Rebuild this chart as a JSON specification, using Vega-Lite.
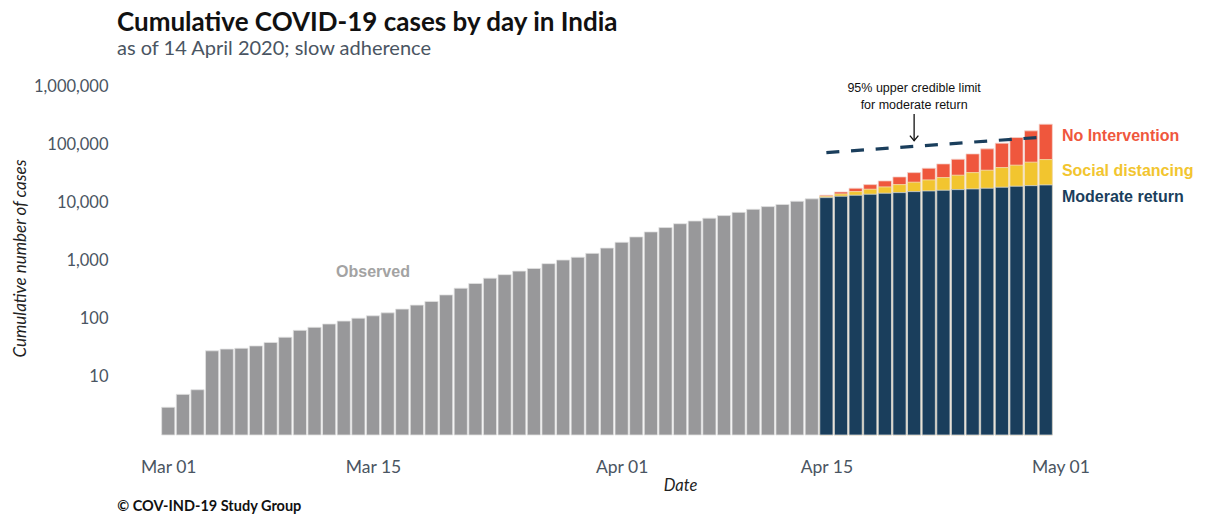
{
  "$schema": "https://vega.github.io/schema/vega-lite/v6.json",
  "width": 936,
  "height": 349,
  "autosize": {"type": "none"},
  "padding": {"left": 139, "top": 86, "right": 133, "bottom": 83},
  "background": "white",
  "config": {"view": {"stroke": null}, "font": "Lato"},
  "title": {
    "text": "Cumulative COVID-19 cases by day in India",
    "subtitle": "as of 14 April 2020; slow adherence",
    "anchor": "start",
    "frame": "group",
    "dx": -22,
    "offset": 19,
    "font": "Lato",
    "fontSize": 26,
    "fontWeight": "bold",
    "color": "#111111",
    "subtitleFont": "Lato",
    "subtitleFontSize": 20,
    "subtitleColor": "#4a5562",
    "subtitlePadding": 3
  },
  "datasets": {
    "cases": [
      {"date": "2020-03-01T00:00:00", "observed": 3},
      {"date": "2020-03-02T00:00:00", "observed": 5},
      {"date": "2020-03-03T00:00:00", "observed": 6},
      {"date": "2020-03-04T00:00:00", "observed": 28},
      {"date": "2020-03-05T00:00:00", "observed": 30},
      {"date": "2020-03-06T00:00:00", "observed": 31},
      {"date": "2020-03-07T00:00:00", "observed": 34},
      {"date": "2020-03-08T00:00:00", "observed": 39},
      {"date": "2020-03-09T00:00:00", "observed": 48},
      {"date": "2020-03-10T00:00:00", "observed": 63},
      {"date": "2020-03-11T00:00:00", "observed": 71},
      {"date": "2020-03-12T00:00:00", "observed": 81},
      {"date": "2020-03-13T00:00:00", "observed": 91},
      {"date": "2020-03-14T00:00:00", "observed": 102},
      {"date": "2020-03-15T00:00:00", "observed": 112},
      {"date": "2020-03-16T00:00:00", "observed": 126},
      {"date": "2020-03-17T00:00:00", "observed": 146},
      {"date": "2020-03-18T00:00:00", "observed": 171},
      {"date": "2020-03-19T00:00:00", "observed": 198},
      {"date": "2020-03-20T00:00:00", "observed": 256},
      {"date": "2020-03-21T00:00:00", "observed": 334},
      {"date": "2020-03-22T00:00:00", "observed": 403},
      {"date": "2020-03-23T00:00:00", "observed": 497},
      {"date": "2020-03-24T00:00:00", "observed": 571},
      {"date": "2020-03-25T00:00:00", "observed": 657},
      {"date": "2020-03-26T00:00:00", "observed": 730},
      {"date": "2020-03-27T00:00:00", "observed": 883},
      {"date": "2020-03-28T00:00:00", "observed": 1019},
      {"date": "2020-03-29T00:00:00", "observed": 1139},
      {"date": "2020-03-30T00:00:00", "observed": 1326},
      {"date": "2020-03-31T00:00:00", "observed": 1635},
      {"date": "2020-04-01T00:00:00", "observed": 2059},
      {"date": "2020-04-02T00:00:00", "observed": 2545},
      {"date": "2020-04-03T00:00:00", "observed": 3105},
      {"date": "2020-04-04T00:00:00", "observed": 3684},
      {"date": "2020-04-05T00:00:00", "observed": 4293},
      {"date": "2020-04-06T00:00:00", "observed": 4777},
      {"date": "2020-04-07T00:00:00", "observed": 5350},
      {"date": "2020-04-08T00:00:00", "observed": 5915},
      {"date": "2020-04-09T00:00:00", "observed": 6728},
      {"date": "2020-04-10T00:00:00", "observed": 7600},
      {"date": "2020-04-11T00:00:00", "observed": 8446},
      {"date": "2020-04-12T00:00:00", "observed": 9205},
      {"date": "2020-04-13T00:00:00", "observed": 10453},
      {"date": "2020-04-14T00:00:00", "observed": 11487},
      {"date": "2020-04-15T00:00:00", "no_intervention": 13250, "social_distancing": 12700, "moderate_return": 12050},
      {"date": "2020-04-16T00:00:00", "no_intervention": 15100, "social_distancing": 13950, "moderate_return": 12740},
      {"date": "2020-04-17T00:00:00", "no_intervention": 17490, "social_distancing": 15290, "moderate_return": 13250},
      {"date": "2020-04-18T00:00:00", "no_intervention": 20170, "social_distancing": 16800, "moderate_return": 13780},
      {"date": "2020-04-19T00:00:00", "no_intervention": 23350, "social_distancing": 18410, "moderate_return": 14350},
      {"date": "2020-04-20T00:00:00", "no_intervention": 27350, "social_distancing": 20170, "moderate_return": 14690},
      {"date": "2020-04-21T00:00:00", "no_intervention": 32430, "social_distancing": 22180, "moderate_return": 15290},
      {"date": "2020-04-22T00:00:00", "no_intervention": 38630, "social_distancing": 24300, "moderate_return": 15710},
      {"date": "2020-04-23T00:00:00", "no_intervention": 45810, "social_distancing": 26630, "moderate_return": 16150},
      {"date": "2020-04-24T00:00:00", "no_intervention": 55170, "social_distancing": 29260, "moderate_return": 16540},
      {"date": "2020-04-25T00:00:00", "no_intervention": 68070, "social_distancing": 32430, "moderate_return": 17010},
      {"date": "2020-04-26T00:00:00", "no_intervention": 83020, "social_distancing": 35650, "moderate_return": 17490},
      {"date": "2020-04-27T00:00:00", "no_intervention": 104000, "social_distancing": 39570, "moderate_return": 18200},
      {"date": "2020-04-28T00:00:00", "no_intervention": 129900, "social_distancing": 43520, "moderate_return": 18930},
      {"date": "2020-04-29T00:00:00", "no_intervention": 169400, "social_distancing": 49000, "moderate_return": 19370},
      {"date": "2020-04-30T00:00:00", "no_intervention": 220900, "social_distancing": 54320, "moderate_return": 19920}
    ],
    "upper": [
      {"date": "2020-04-15T00:00:00", "upper_limit": 71650},
      {"date": "2020-04-30T00:00:00", "upper_limit": 133300}
    ],
    "series_labels": [
      {"date": "2020-05-01T00:00:00", "value": 139000, "label": "No Intervention"},
      {"date": "2020-05-01T00:00:00", "value": 34700, "label": "Social distancing"},
      {"date": "2020-05-01T00:00:00", "value": 12240, "label": "Moderate return"}
    ],
    "notes": [
      {"date": "2020-04-21T00:00:00", "value": 931000, "label": "95% upper credible limit"},
      {"date": "2020-04-21T00:00:00", "value": 474000, "label": "for moderate return"}
    ],
    "pointer": [
      {"date": "2020-04-21T00:00:00", "start_value": 330000, "end_value": 115000}
    ],
    "observed_label": [
      {"date": "2020-03-15T00:00:00", "value": 634, "label": "Observed"}
    ],
    "caption": [
      {"date": "2020-02-26T00:00:00", "value": 0.0572, "label": "© COV-IND-19 Study Group"}
    ]
  },
  "layer": [
    {
      "data": {"name": "cases"},
      "layer": [
        {
          "mark": {"type": "bar", "width": 13.2, "color": "#98989a", "stroke": "#e2e2e2", "strokeWidth": 0.8},
          "encoding": {
            "x": {
              "field": "date", "type": "temporal",
              "scale": {"domain": [{"year": 2020, "month": 2, "date": 28}, {"year": 2020, "month": 5, "date": 2}], "padding": 0, "nice": false},
              "axis": {
                "values": [
                  {"year": 2020, "month": 3, "date": 1},
                  {"year": 2020, "month": 3, "date": 15},
                  {"year": 2020, "month": 4, "date": 1},
                  {"year": 2020, "month": 4, "date": 15},
                  {"year": 2020, "month": 5, "date": 1}
                ],
                "format": "%b %d",
                "domain": false, "ticks": false, "tickSize": 0, "grid": false,
                "labelFont": "Lato", "labelFontSize": 17.5, "labelColor": "#4a5562",
                "labelPadding": 23,
                "title": "Date", "titleFont": "Lato", "titleFontSize": 16.5,
                "titleFontStyle": "italic", "titleFontWeight": "normal", "titleColor": "#222222",
                "titleX": 541, "titleY": 50, "titleBaseline": "middle", "titleAlign": "center"
              }
            },
            "y": {
              "field": "observed", "type": "quantitative",
              "scale": {"type": "log", "domain": [1, 1000000], "padding": 0, "nice": false},
              "axis": {
                "values": [10, 100, 1000, 10000, 100000, 1000000],
                "format": ",",
                "domain": false, "ticks": false, "tickSize": 0, "grid": false,
                "labelFont": "Lato", "labelFontSize": 16.5, "labelColor": "#4a5562",
                "labelPadding": 31,
                "title": "Cumulative number of cases", "titleFont": "Lato", "titleFontSize": 17,
                "titleFontStyle": "italic", "titleFontWeight": "normal", "titleColor": "#222222",
                "titleX": -119, "titleY": 172, "titleBaseline": "middle", "titleAlign": "center"
              }
            },
            "y2": {"datum": 1}
          }
        },
        {
          "mark": {"type": "bar", "width": 13.2, "color": "#ef573d", "stroke": "#f4d6cf", "strokeWidth": 0.8},
          "encoding": {
            "x": {"field": "date", "type": "temporal"},
            "y": {"field": "no_intervention", "type": "quantitative"},
            "y2": {"datum": 1}
          }
        },
        {
          "mark": {"type": "bar", "width": 13.2, "color": "#f2c52f", "stroke": "#f3e4b8", "strokeWidth": 0.8},
          "encoding": {
            "x": {"field": "date", "type": "temporal"},
            "y": {"field": "social_distancing", "type": "quantitative"},
            "y2": {"datum": 1}
          }
        },
        {
          "mark": {"type": "bar", "width": 13.2, "color": "#1a3e5c", "stroke": "#d6d9dc", "strokeWidth": 0.8},
          "encoding": {
            "x": {"field": "date", "type": "temporal"},
            "y": {"field": "moderate_return", "type": "quantitative"},
            "y2": {"datum": 1}
          }
        }
      ]
    },
    {
      "data": {"name": "upper"},
      "mark": {"type": "line", "color": "#1a3e5c", "strokeWidth": 3.2, "strokeDash": [13, 11.7], "strokeCap": "butt"},
      "encoding": {
        "x": {"field": "date", "type": "temporal"},
        "y": {"field": "upper_limit", "type": "quantitative"}
      }
    },
    {
      "data": {"name": "pointer"},
      "layer": [
        {
          "mark": {"type": "rule", "color": "#111111", "strokeWidth": 1.3},
          "encoding": {
            "x": {"field": "date", "type": "temporal"},
            "y": {"field": "start_value", "type": "quantitative"},
            "y2": {"field": "end_value"}
          }
        },
        {
          "mark": {"type": "point", "shape": "M-1,-1.2L0,0L1,-1.2", "filled": false, "stroke": "#111111", "strokeWidth": 1.3, "size": 72, "opacity": 1},
          "encoding": {
            "x": {"field": "date", "type": "temporal"},
            "y": {"field": "end_value", "type": "quantitative"}
          }
        }
      ]
    },
    {
      "data": {"name": "notes"},
      "mark": {"type": "text", "font": "Liberation Sans", "fontSize": 12.5, "color": "#111111", "align": "center", "baseline": "middle"},
      "encoding": {
        "x": {"field": "date", "type": "temporal"},
        "y": {"field": "value", "type": "quantitative"},
        "text": {"field": "label"}
      }
    },
    {
      "data": {"name": "series_labels"},
      "mark": {"type": "text", "font": "Liberation Sans", "fontSize": 16, "fontWeight": "bold", "align": "left", "baseline": "middle", "dx": 1.5},
      "encoding": {
        "x": {"field": "date", "type": "temporal"},
        "y": {"field": "value", "type": "quantitative"},
        "text": {"field": "label"},
        "color": {
          "field": "label", "type": "nominal",
          "scale": {"domain": ["No Intervention", "Social distancing", "Moderate return"], "range": ["#ef573d", "#f2c52f", "#1a3e5c"]},
          "legend": null
        }
      }
    },
    {
      "data": {"name": "observed_label"},
      "mark": {"type": "text", "font": "Liberation Sans", "fontSize": 16, "fontWeight": "bold", "color": "#a3a3a3", "align": "center", "baseline": "middle"},
      "encoding": {
        "x": {"field": "date", "type": "temporal"},
        "y": {"field": "value", "type": "quantitative"},
        "text": {"field": "label"}
      }
    },
    {
      "data": {"name": "caption"},
      "mark": {"type": "text", "font": "Lato", "fontSize": 14.5, "fontWeight": "bold", "color": "#111111", "align": "left", "baseline": "middle", "dx": 7.5},
      "encoding": {
        "x": {"field": "date", "type": "temporal"},
        "y": {"field": "value", "type": "quantitative"},
        "text": {"field": "label"}
      }
    }
  ]
}
